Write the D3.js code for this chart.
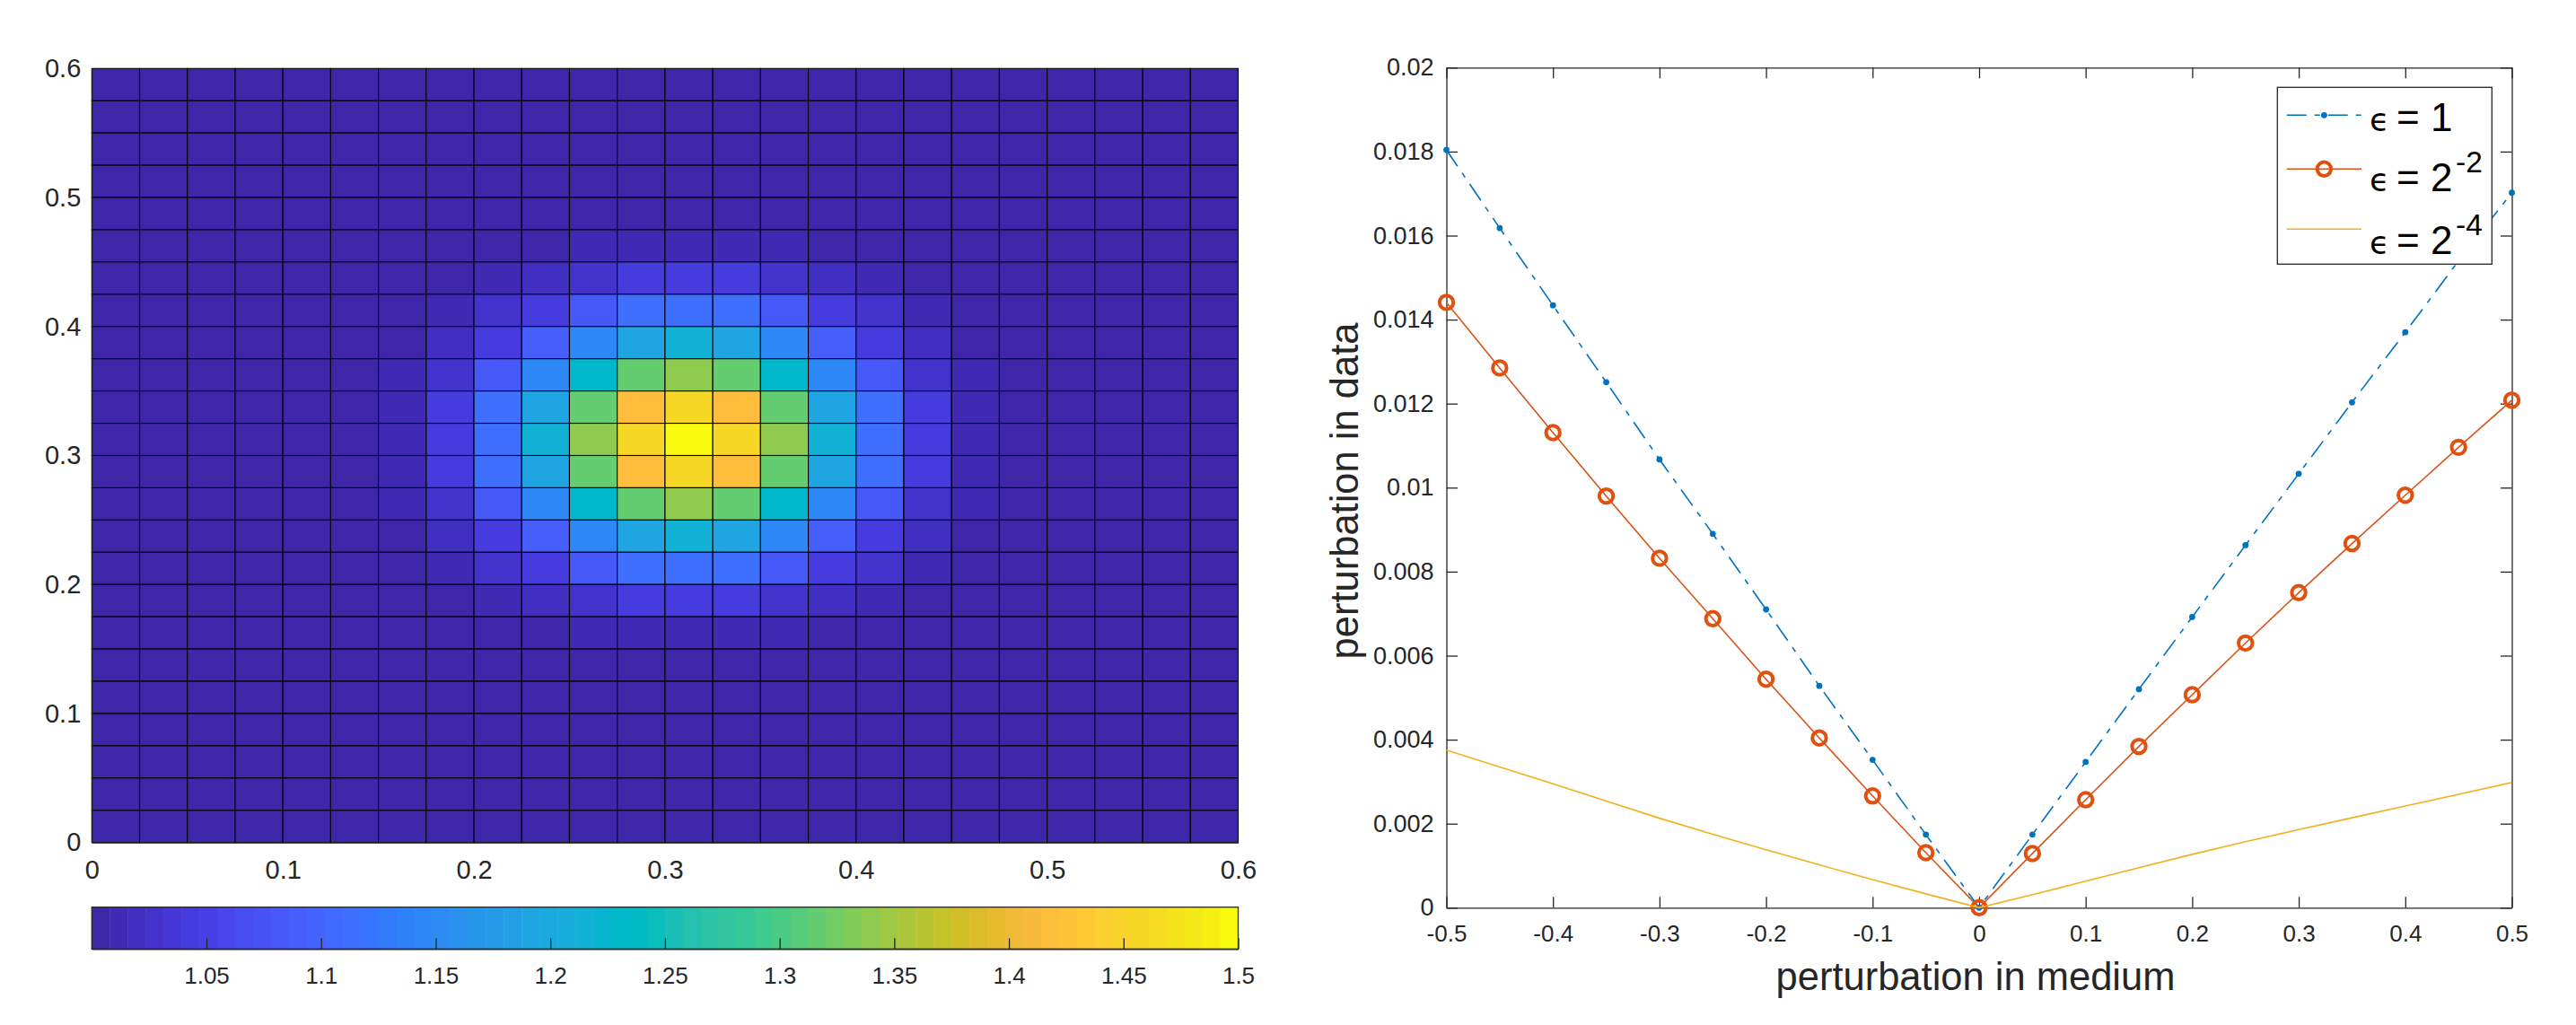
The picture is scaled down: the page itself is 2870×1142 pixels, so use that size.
<!DOCTYPE html>
<html>
<head>
<meta charset="utf-8">
<script src="https://cdn.jsdelivr.net/npm/d3@7/dist/d3.min.js"></script>
<style>
  html, body { margin: 0; padding: 0; background: #fff; }
  text { font-family: "Liberation Sans", Arial, sans-serif; }
  .axis path, .axis line { stroke: #262626; stroke-width: 1.3; }
  .axis text { fill: #262626; }
</style>
</head>
<body>
<script>
//heatmap values, top row first
var mediumRows = [
  [1,1,1,1,1,1,1,1,1,1,1,1,1,1,1,1,1,1,1,1,1,1,1,1],
  [1,1,1,1,1,1,1,1,1,1,1,1,1,1,1,1,1,1,1,1,1,1,1,1],
  [1,1,1,1,1,1,1,1,1,1,1,1,1,1,1,1,1,1,1,1,1,1,1,1],
  [1,1,1,1,1,1,1,1,1,1,1,1,1,1,1,1,1,1,1,1,1,1,1,1],
  [1,1,1,1,1,1,1,1,1,1,1,1,1,1,1,1,1,1,1,1,1,1,1,1],
  [1,1,1,1,1,1,1,1,1,1,1.01,1.01,1.01,1.01,1.01,1,1,1,1,1,1,1,1,1],
  [1,1,1,1,1,1,1,1,1.01,1.02,1.03,1.04,1.04,1.04,1.03,1.02,1.01,1,1,1,1,1,1,1],
  [1,1,1,1,1,1,1,1.01,1.03,1.04,1.08,1.11,1.11,1.11,1.08,1.04,1.03,1.01,1,1,1,1,1,1],
  [1,1,1,1,1,1,1,1.02,1.04,1.09,1.145,1.19,1.215,1.19,1.145,1.09,1.04,1.02,1,1,1,1,1,1],
  [1,1,1,1,1,1,1.01,1.03,1.08,1.145,1.23,1.315,1.34,1.315,1.23,1.145,1.08,1.03,1.01,1,1,1,1,1],
  [1,1,1,1,1,1,1.01,1.04,1.11,1.19,1.315,1.415,1.455,1.415,1.315,1.19,1.11,1.04,1.01,1,1,1,1,1],
  [1,1,1,1,1,1,1.01,1.04,1.11,1.215,1.34,1.455,1.5,1.455,1.34,1.215,1.11,1.04,1.01,1,1,1,1,1],
  [1,1,1,1,1,1,1.01,1.04,1.11,1.19,1.315,1.415,1.455,1.415,1.315,1.19,1.11,1.04,1.01,1,1,1,1,1],
  [1,1,1,1,1,1,1.01,1.03,1.08,1.145,1.23,1.315,1.34,1.315,1.23,1.145,1.08,1.03,1.01,1,1,1,1,1],
  [1,1,1,1,1,1,1,1.02,1.04,1.09,1.145,1.19,1.215,1.19,1.145,1.09,1.04,1.02,1,1,1,1,1,1],
  [1,1,1,1,1,1,1,1.01,1.03,1.04,1.08,1.11,1.11,1.11,1.08,1.04,1.03,1.01,1,1,1,1,1,1],
  [1,1,1,1,1,1,1,1,1.01,1.02,1.03,1.04,1.04,1.04,1.03,1.02,1.01,1,1,1,1,1,1,1],
  [1,1,1,1,1,1,1,1,1,1,1.01,1.01,1.01,1.01,1.01,1,1,1,1,1,1,1,1,1],
  [1,1,1,1,1,1,1,1,1,1,1,1,1,1,1,1,1,1,1,1,1,1,1,1],
  [1,1,1,1,1,1,1,1,1,1,1,1,1,1,1,1,1,1,1,1,1,1,1,1],
  [1,1,1,1,1,1,1,1,1,1,1,1,1,1,1,1,1,1,1,1,1,1,1,1],
  [1,1,1,1,1,1,1,1,1,1,1,1,1,1,1,1,1,1,1,1,1,1,1,1],
  [1,1,1,1,1,1,1,1,1,1,1,1,1,1,1,1,1,1,1,1,1,1,1,1],
  [1,1,1,1,1,1,1,1,1,1,1,1,1,1,1,1,1,1,1,1,1,1,1,1]
];
var cellSize = 0.025;
var heatTicks = [0, 0.1, 0.2, 0.3, 0.4, 0.5, 0.6];
var barTicks = [1.05, 1.1, 1.15, 1.2, 1.25, 1.3, 1.35, 1.4, 1.45, 1.5];

//line chart values, y is in units of 0.001
var perturbation = [-0.5,-0.45,-0.4,-0.35,-0.3,-0.25,-0.2,-0.15,-0.1,-0.05,0,0.05,0.1,0.15,0.2,0.25,0.3,0.35,0.4,0.45,0.5];
var eps1 = [18.04,16.18,14.34,12.51,10.67,8.9,7.1,5.28,3.52,1.74,0,1.74,3.47,5.2,6.92,8.63,10.33,12.03,13.7,15.4,17.02];
var eps2 = [14.41,12.85,11.31,9.8,8.32,6.88,5.44,4.04,2.66,1.31,0,1.29,2.57,3.84,5.07,6.3,7.5,8.67,9.82,10.96,12.08];
var eps4 = [3.75,3.35,2.95,2.54,2.13,1.75,1.38,1.02,0.67,0.33,0,0.31,0.63,0.95,1.27,1.57,1.86,2.14,2.42,2.7,2.98];
var lineXTicks = [-0.5,-0.4,-0.3,-0.2,-0.1,0,0.1,0.2,0.3,0.4,0.5];
var lineYTicks = [0,0.002,0.004,0.006,0.008,0.01,0.012,0.014,0.016,0.018,0.02];

//parula, 64 levels
var parula = [
  [.2422,.1504,.6603],[.2504,.165,.7076],[.2578,.1818,.7511],[.2647,.1978,.7952],
  [.2706,.2147,.8364],[.2751,.2342,.871],[.2783,.2559,.8991],[.2803,.2782,.9221],
  [.2813,.3006,.9414],[.281,.3228,.9579],[.2795,.3447,.9717],[.276,.3667,.9829],
  [.2699,.3892,.9906],[.2602,.4123,.9952],[.244,.4358,.9988],[.2206,.4603,.9973],
  [.1963,.4847,.9892],[.1834,.5074,.9798],[.1786,.5289,.9682],[.1764,.5499,.952],
  [.1687,.5703,.9359],[.154,.5902,.9218],[.146,.6091,.9079],[.138,.6276,.8973],
  [.1248,.6459,.8883],[.1113,.6635,.8763],[.0952,.6798,.8598],[.0689,.6948,.8394],
  [.0297,.7082,.8163],[.0036,.7203,.7917],[.0067,.7312,.766],[.0433,.7411,.7394],
  [.0964,.75,.712],[.1408,.7584,.6842],[.1717,.767,.6554],[.1938,.7758,.6251],
  [.2161,.7843,.5923],[.247,.7918,.5567],[.2906,.7973,.5188],[.3406,.8008,.4789],
  [.3909,.8029,.4354],[.4456,.8024,.3909],[.5044,.7993,.348],[.5616,.7942,.3045],
  [.6174,.7876,.2612],[.672,.7793,.2227],[.7242,.7698,.191],[.7738,.7598,.1646],
  [.8203,.7498,.1535],[.8634,.7406,.1596],[.9035,.733,.1774],[.9393,.7288,.21],
  [.9728,.7298,.2394],[.9956,.7434,.2371],[.997,.7659,.2199],[.9952,.7861,.1999],
  [.9892,.8138,.1885],[.9786,.8227,.171],[.9655,.8439,.1497],[.9589,.8634,.131],
  [.9529,.885,.11],[.9598,.9106,.089],[.9688,.9356,.0649],[.9763,.9831,.0538]
].map(function(c){
  return d3.rgb(c[0]*255, c[1]*255, c[2]*255).formatHex();
});

var w = 2870, h = 1142;
var svg = d3.select("body").append("svg")
  .attr("width", w)
  .attr("height", h)
  .style("display", "block");

//----- left panel: heatmap -----
var heatX = d3.scaleLinear().domain([0, 0.6]).range([102.3, 1379.5]);
var heatY = d3.scaleLinear().domain([0, 0.6]).range([938.7, 76.3]);
var color = d3.scaleQuantize().domain([1, 1.5]).range(parula);

var cells = [];
mediumRows.forEach(function(row, i){
  row.forEach(function(v, j){
    cells.push({row: i, col: j, value: v});
  });
});
svg.append("g").selectAll("rect")
  .data(cells)
  .enter()
  .append("rect")
  .attr("x", function(d){ return heatX(d.col * cellSize); })
  .attr("y", function(d){ return heatY(0.6 - d.row * cellSize); })
  .attr("width", function(d){ return heatX((d.col + 1) * cellSize) - heatX(d.col * cellSize); })
  .attr("height", function(d){ return heatY(0.6 - (d.row + 1) * cellSize) - heatY(0.6 - d.row * cellSize); })
  .attr("fill", function(d){ return color(d.value); })
  .attr("stroke", "#000")
  .attr("stroke-width", 1.1);

var heatBottom = svg.append("g").attr("class", "axis")
  .attr("transform", "translate(0,938.7)")
  .call(d3.axisBottom(heatX).tickValues(heatTicks).tickFormat(d3.format("")).tickSize(0).tickPadding(20));
var heatLeft = svg.append("g").attr("class", "axis")
  .attr("transform", "translate(102.3,0)")
  .call(d3.axisLeft(heatY).tickValues(heatTicks).tickFormat(d3.format("")).tickSize(0).tickPadding(12));
heatBottom.selectAll("text").attr("font-size", 29);
heatLeft.selectAll("text").attr("font-size", 29);

//----- colorbar -----
var barX = d3.scaleLinear().domain([1, 1.5]).range([102.3, 1379.5]);
var barTop = 1010.7, barBottom = 1057.3;
svg.append("g").selectAll("rect")
  .data(parula)
  .enter()
  .append("rect")
  .attr("x", function(d, i){ return barX(1 + i * 0.5 / 64); })
  .attr("y", barTop)
  .attr("width", function(d, i){ return barX(1 + (i + 1) * 0.5 / 64) - barX(1 + i * 0.5 / 64) + 0.5; })
  .attr("height", barBottom - barTop)
  .attr("fill", function(d){ return d; });
svg.append("rect")
  .attr("x", barX(1))
  .attr("y", barTop)
  .attr("width", barX(1.5) - barX(1))
  .attr("height", barBottom - barTop)
  .attr("fill", "none")
  .attr("stroke", "#262626")
  .attr("stroke-width", 1.3);
var barAxis = svg.append("g").attr("class", "axis")
  .attr("transform", "translate(0," + barBottom + ")")
  .call(d3.axisBottom(barX).tickValues(barTicks).tickFormat(d3.format("")).tickSize(-12).tickSizeOuter(0).tickPadding(20));
barAxis.selectAll("text").attr("font-size", 26);

//----- right panel: lines -----
var lineX = d3.scaleLinear().domain([-0.5, 0.5]).range([1611.5, 2798.5]);
var lineY = d3.scaleLinear().domain([0, 0.02]).range([1011.3, 75.3]);
var numFmt = function(d){ return String(+d.toFixed(3)); };

var bottomAxis = svg.append("g").attr("class", "axis")
  .attr("transform", "translate(0,1011.3)")
  .call(d3.axisBottom(lineX).tickValues(lineXTicks).tickFormat(numFmt).tickSize(-12).tickSizeOuter(0).tickPadding(19));
bottomAxis.selectAll("text").attr("font-size", 26);
var leftAxis = svg.append("g").attr("class", "axis")
  .attr("transform", "translate(1611.5,0)")
  .call(d3.axisLeft(lineY).tickValues(lineYTicks).tickFormat(numFmt).tickSize(-12.5).tickSizeOuter(0).tickPadding(14));
leftAxis.selectAll("text").attr("font-size", 27);
//box on: same ticks without labels on top and right
svg.append("g").attr("class", "axis")
  .attr("transform", "translate(0,75.3)")
  .call(d3.axisTop(lineX).tickValues(lineXTicks).tickFormat("").tickSize(-12).tickSizeOuter(0));
svg.append("g").attr("class", "axis")
  .attr("transform", "translate(2798.5,0)")
  .call(d3.axisRight(lineY).tickValues(lineYTicks).tickFormat("").tickSize(-12.5).tickSizeOuter(0));

//axis titles
svg.append("text")
  .attr("x", 2201)
  .attr("y", 1103)
  .attr("text-anchor", "middle")
  .attr("font-size", 43.5)
  .attr("fill", "#262626")
  .text("perturbation in medium");
svg.append("text")
  .attr("transform", "translate(1512.7,547) rotate(-90)")
  .attr("text-anchor", "middle")
  .attr("font-size", 43.5)
  .attr("fill", "#262626")
  .text("perturbation in data");

var lineGen = d3.line()
  .x(function(d, i){ return lineX(perturbation[i]); })
  .y(function(d){ return lineY(d / 1000); });
var toPoints = function(vals){
  return vals.map(function(v, i){ return {x: perturbation[i], y: v}; });
};
var dashDot = "22,9,6,9";

svg.append("path").attr("d", lineGen(eps1))
  .attr("fill", "none").attr("stroke", "#0072bd").attr("stroke-width", 1.6)
  .attr("stroke-dasharray", dashDot);
svg.append("g").selectAll("circle")
  .data(toPoints(eps1))
  .enter()
  .append("circle")
  .attr("cx", function(d){ return lineX(d.x); })
  .attr("cy", function(d){ return lineY(d.y / 1000); })
  .attr("r", 3.4)
  .attr("fill", "#0072bd");

svg.append("path").attr("d", lineGen(eps2))
  .attr("fill", "none").attr("stroke", "#d95319").attr("stroke-width", 1.6);
svg.append("g").selectAll("circle")
  .data(toPoints(eps2))
  .enter()
  .append("circle")
  .attr("cx", function(d){ return lineX(d.x); })
  .attr("cy", function(d){ return lineY(d.y / 1000); })
  .attr("r", 7.7)
  .attr("fill", "none")
  .attr("stroke", "#e0500f")
  .attr("stroke-width", 4);

svg.append("path").attr("d", lineGen(eps4))
  .attr("fill", "none").attr("stroke", "#f2b01e").attr("stroke-width", 1.6);

//----- legend -----
var legendX = d3.scaleLinear().domain([0, 1]).range([2547.7, 2631]);
svg.append("rect")
  .attr("x", 2537.3).attr("y", 97.3)
  .attr("width", 239).attr("height", 197)
  .attr("fill", "#fff")
  .attr("stroke", "#262626")
  .attr("stroke-width", 1.3);

var legendRows = [
  {base: "1", sup: "", y: 128.3, base_y: 146, stroke: "#0072bd", dash: dashDot},
  {base: "2", sup: "-2", y: 188.3, base_y: 213.3, stroke: "#d95319", dash: null},
  {base: "2", sup: "-4", y: 255.3, base_y: 282.7, stroke: "#f2b01e", dash: null}
];
legendRows.forEach(function(r){
  svg.append("line")
    .attr("x1", legendX(0)).attr("x2", legendX(1))
    .attr("y1", r.y).attr("y2", r.y)
    .attr("stroke", r.stroke)
    .attr("stroke-width", 1.6)
    .attr("stroke-dasharray", r.dash);
  var t = svg.append("text")
    .attr("y", r.base_y)
    .attr("font-size", 44)
    .attr("fill", "#000");
  t.append("tspan").attr("x", 2640).attr("font-family", "'DejaVu Sans'").attr("font-size", 36).text("\u03f5");
  t.append("tspan").attr("x", 2670).text("=");
  t.append("tspan").attr("x", 2708).text(r.base);
  if (r.sup) {
    t.append("tspan").attr("x", 2736).attr("dy", -21).attr("font-size", 33.5).text(r.sup);
  }
});
svg.append("circle")
  .attr("cx", legendX(0.5)).attr("cy", 128.3).attr("r", 3.4).attr("fill", "#0072bd");
svg.append("circle")
  .attr("cx", legendX(0.5)).attr("cy", 188.3).attr("r", 7.7)
  .attr("fill", "none").attr("stroke", "#e0500f").attr("stroke-width", 4);
</script>
</body>
</html>
